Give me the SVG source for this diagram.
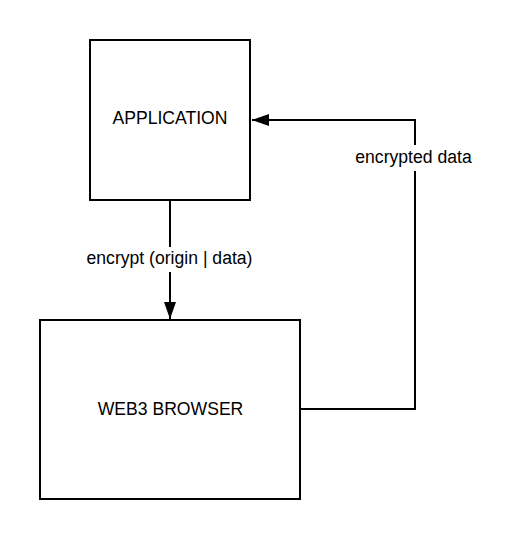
<svg xmlns="http://www.w3.org/2000/svg" width="514" height="540" viewBox="0 0 514 540">
<style>
.box{fill:#fff;stroke:#000;stroke-width:2}
.lbl{font-family:"Liberation Sans",Arial,sans-serif;font-size:17.6px;fill:#000;text-anchor:middle}
.edge{fill:none;stroke:#000;stroke-width:2}
.bg{fill:#fff}
</style>
<defs>
<marker id="arr" viewBox="0 0 17 12" refX="17" refY="6" markerWidth="17" markerHeight="12" markerUnits="userSpaceOnUse" orient="auto">
<path d="M0,0 L17,6 L0,12 Z" fill="#000"/>
</marker>
</defs>
<rect width="514" height="540" fill="#fff"/>
<g id="connectors">
<path class="edge" d="M170,200 V319" marker-end="url(#arr)"/>
<rect class="bg" x="84" y="247" width="172" height="25"/>
<text class="lbl" x="169.5" y="264">encrypt (origin | data)</text>
<path class="edge" d="M300,409 H415 V120 H252" marker-end="url(#arr)"/>
<rect class="bg" x="351" y="145" width="126" height="26"/>
<text class="lbl" x="413.5" y="163">encrypted data</text>
</g>
<g id="application">
<rect class="box" x="90" y="40" width="160" height="160"/>
<text class="lbl" x="170" y="124">APPLICATION</text>
</g>
<g id="web3-browser">
<rect class="box" x="40" y="320" width="260" height="179"/>
<text class="lbl" x="170.5" y="415">WEB3 BROWSER</text>
</g>
</svg>
